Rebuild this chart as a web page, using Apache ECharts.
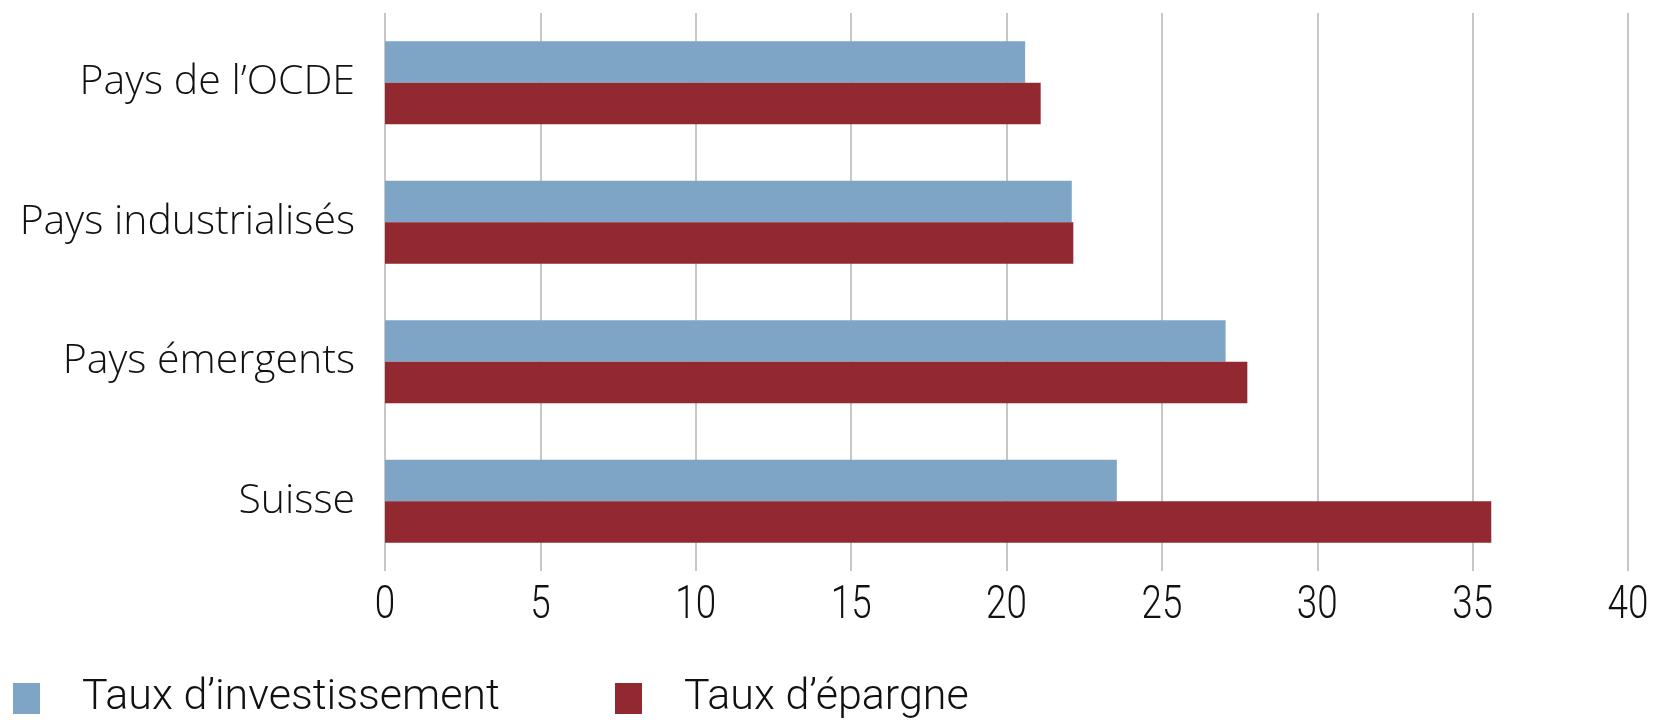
<!DOCTYPE html>
<html>
<head>
<meta charset="utf-8">
<script src="https://cdn.jsdelivr.net/npm/echarts@6/dist/echarts.min.js"></script>
<style>
  html, body { margin: 0; padding: 0; background: #ffffff; }
  #chart { width: 1658px; height: 720px; }
</style>
</head>
<body>
<div id="chart"></div>
<script>
// Taux d'investissement et d'épargne, en % du PIB
const categories = ['Pays de l’OCDE', 'Pays industrialisés', 'Pays émergents', 'Suisse'];
const investissement = [20.6, 22.1, 27.05, 23.55];
const epargne = [21.1, 22.15, 27.75, 35.6];
const seriesNames = ['Taux d’investissement', 'Taux d’épargne'];
const xTicks = [0, 5, 10, 15, 20, 25, 30, 35, 40];

const blue = '#7ea4c6';
const red = '#922830';
const gridGray = '#b5b5b5';
const textColor = '#111111';
const lightFont = 'Roboto, "Open Sans", sans-serif';

const chart = echarts.init(document.getElementById('chart'));

const legendText = {
  fontFamily: lightFont,
  fontWeight: 300,
  fontSize: 43,
  color: textColor,
  padding: [0, 0, 0, 37]
};

chart.setOption({
  animation: false,
  backgroundColor: '#ffffff',
  grid: { left: 385, right: 30, top: 13, bottom: 149 },
  legend: [
    {
      data: [seriesNames[0]],
      left: 13, top: 677, padding: 0,
      itemWidth: 27, itemHeight: 31,
      icon: 'rect',
      textStyle: legendText
    },
    {
      data: [seriesNames[1]],
      left: 615, top: 677, padding: 0,
      itemWidth: 27, itemHeight: 31,
      icon: 'rect',
      textStyle: legendText
    }
  ],
  xAxis: {
    type: 'value',
    min: xTicks[0],
    max: xTicks[xTicks.length - 1],
    interval: 5,
    axisLine: { show: false },
    axisTick: { show: false },
    splitLine: { show: true, lineStyle: { color: gridGray, width: 1.5 } },
    // tick values are drawn below as narrowed text
    axisLabel: { show: false }
  },
  yAxis: {
    type: 'category',
    data: categories,
    inverse: true,
    axisLine: { show: false },
    axisTick: { show: false },
    axisLabel: {
      fontFamily: '"Open Sans", sans-serif',
      fontWeight: 300,
      fontSize: 41,
      color: textColor,
      margin: 30
    }
  },
  series: [
    {
      name: seriesNames[0],
      type: 'bar',
      data: investissement,
      itemStyle: { color: blue },
      barGap: '0%',
      barCategoryGap: '40.5%'
    },
    {
      name: seriesNames[1],
      type: 'bar',
      data: epargne,
      itemStyle: { color: red },
      barGap: '0%',
      barCategoryGap: '40.5%'
    }
  ]
});

// Value-axis tick labels in a narrow setting, placed with the axis scale
const tickLabels = xTicks.map(v => ({
  type: 'text',
  x: chart.convertToPixel({ xAxisIndex: 0 }, v),
  y: 606,
  scaleX: 0.8,
  silent: true,
  style: {
    text: String(v),
    fontFamily: lightFont,
    fontWeight: 300,
    fontSize: 46,
    fill: textColor,
    align: 'center',
    verticalAlign: 'middle'
  }
}));
chart.setOption({ graphic: tickLabels });
</script>
</body>
</html>
